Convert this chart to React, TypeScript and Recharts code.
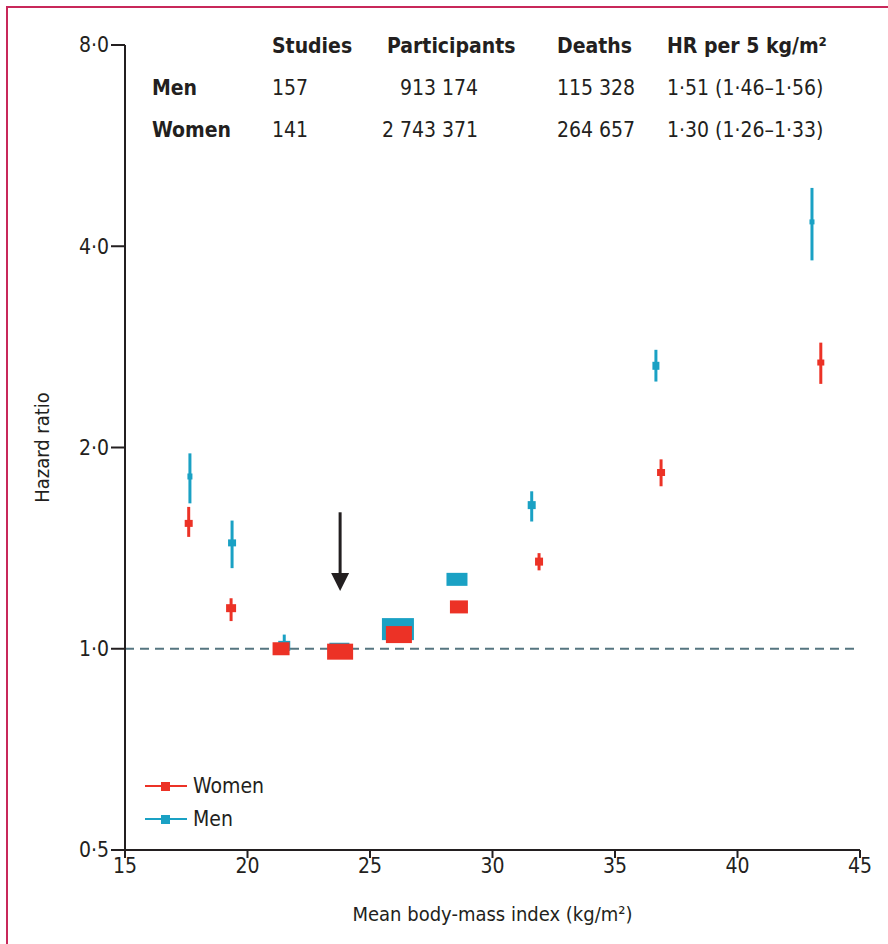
import React from 'react';
import {
  ScatterChart,
  Scatter,
  XAxis,
  YAxis,
  ErrorBar,
  ReferenceLine,
  ReferenceDot,
} from 'recharts';

// BMI groups and hazard ratios (with 95% CI)
const menBmi = [17.65, 19.37, 21.5, 23.75, 26.14, 28.55, 31.6, 36.67, 43.04];
const menHr = [1.81, 1.44, 1.01, 1.0, 1.07, 1.27, 1.64, 2.65, 4.35];
const menLo = [1.65, 1.32, 0.98, 0.99, 1.06, 1.26, 1.55, 2.51, 3.81];
const menHi = [1.96, 1.555, 1.05, 1.01, 1.08, 1.28, 1.72, 2.8, 4.89];

const womenBmi = [17.6, 19.33, 21.37, 23.78, 26.18, 28.63, 31.9, 36.88, 43.4];
const womenHr = [1.54, 1.15, 1.0, 0.99, 1.05, 1.155, 1.35, 1.835, 2.68];
const womenLo = [1.47, 1.1, 0.985, 0.98, 1.04, 1.15, 1.31, 1.75, 2.49];
const womenHi = [1.63, 1.19, 1.015, 1.0, 1.06, 1.16, 1.39, 1.92, 2.87];

const xTicks = [15, 20, 25, 30, 35, 40, 45];
const yTicks = [0.5, 1, 2, 4, 8];

const tableHeader = ['Studies', 'Participants', 'Deaths', 'HR per 5 kg/m²'];
const tableMen = ['Men', '157', '913 174', '115 328', '1·51 (1·46–1·56)'];
const tableWomen = ['Women', '141', '2 743 371', '264 657', '1·30 (1·26–1·33)'];

const refBmi = 23.78;

// marker box sizes (px), drawn roughly in proportion to study weight
const menBox = [[5, 6], [8, 7], [12, 10], [20, 12], [32, 22], [21, 13], [8, 8], [7, 8], [5, 5]];
const womenBox = [[8, 7], [10, 8], [17, 13], [26, 16], [26, 17], [18, 13], [8, 8], [8, 7], [7, 6]];

const RED = '#ec3226';
const CYAN = '#1aa1c4';
const INK = '#231f20';
const FONT = '"Liberation Sans Narrow", "DejaVu Sans Condensed", "Noto Sans", sans-serif';

const build = (bmi: number[], hr: number[], lo: number[], hi: number[]) =>
  bmi.map((b, i) => ({ bmi: b, hr: hr[i], err: [hr[i] - lo[i], hi[i] - hr[i]], idx: i }));

const menData = build(menBmi, menHr, menLo, menHi);
const womenData = build(womenBmi, womenHr, womenLo, womenHi);

const boxShape = (sizes: number[][], color: string) => (props: any) => {
  const { cx, cy, payload } = props;
  const [w, h] = sizes[payload.idx];
  return <rect x={cx - w / 2} y={cy - h / 2} width={w} height={h} fill={color} />;
};

const fmt = (v: number) => v.toFixed(1).replace('.', '·');

// left edge of each column; participant counts are right-aligned at 478
const colX = [152, 272, 387, 557, 667];

const cell = (text: string, col: number, top: number, bold: boolean, alignRight = false) => (
  <div
    key={col + '-' + top}
    style={{
      position: 'absolute',
      left: alignRight ? undefined : colX[col],
      right: alignRight ? 888 - 478 : undefined,
      top,
      fontWeight: bold ? 700 : 400,
      whiteSpace: 'nowrap',
    }}
  >
    {text}
  </div>
);

const legendItems = [
  { name: 'Women', color: RED },
  { name: 'Men', color: CYAN },
];

export default function App() {
  return (
    <div style={{ position: 'absolute', left: 0, top: 0, width: 888, height: 944, background: '#fff', overflow: 'hidden' }}>
      <div
        style={{
          position: 'absolute',
          left: 6,
          top: 6,
          width: 900,
          height: 950,
          borderLeft: '2px solid #c8285a',
          borderTop: '2px solid #c8285a',
        }}
      />
      <ScatterChart
        width={888}
        height={944}
        margin={{ top: 45, right: 28, left: 65, bottom: 14 }}
        style={{ fontFamily: FONT }}
      >
        <XAxis
          type="number"
          dataKey="bmi"
          domain={[15, 45]}
          ticks={xTicks}
          height={80}
          tickSize={8}
          tickMargin={0}
          axisLine={{ stroke: INK, strokeWidth: 2 }}
          tickLine={{ stroke: INK, strokeWidth: 2 }}
          tick={{ fill: INK, fontSize: 21 }}
          label={{
            value: 'Mean body-mass index (kg/m²)',
            position: 'insideBottom',
            offset: 9,
            style: { fill: INK, fontSize: 20 },
          }}
        />
        <YAxis
          type="number"
          dataKey="hr"
          scale="log"
          domain={[0.5, 8]}
          ticks={yTicks}
          allowDataOverflow
          width={60}
          tickSize={14}
          tickMargin={2}
          tickFormatter={fmt}
          axisLine={{ stroke: INK, strokeWidth: 2 }}
          tickLine={{ stroke: INK, strokeWidth: 2 }}
          tick={{ fill: INK, fontSize: 21 }}
          label={{
            value: 'Hazard ratio',
            angle: -90,
            position: 'insideLeft',
            offset: -23,
            style: { fill: INK, fontSize: 20, textAnchor: 'middle' },
          }}
        />
        <ReferenceLine y={1} stroke="#557580" strokeWidth={2} strokeDasharray="9 6" />
        <ReferenceLine
          segment={[
            { x: refBmi, y: 1.6 },
            { x: refBmi, y: 1.29 },
          ]}
          stroke={INK}
          strokeWidth={3}
        />
        <ReferenceDot
          x={refBmi}
          y={1.22}
          shape={(p: any) => (
            <polygon points={`${p.cx - 9},${p.cy - 18} ${p.cx + 9},${p.cy - 18} ${p.cx},${p.cy}`} fill={INK} />
          )}
        />
        <Scatter name="Men" data={menData} shape={boxShape(menBox, CYAN)} isAnimationActive={false}>
          <ErrorBar dataKey="err" direction="y" width={0} stroke={CYAN} strokeWidth={3} />
        </Scatter>
        <Scatter name="Women" data={womenData} shape={boxShape(womenBox, RED)} isAnimationActive={false}>
          <ErrorBar dataKey="err" direction="y" width={0} stroke={RED} strokeWidth={3} />
        </Scatter>
      </ScatterChart>

      {/* legend */}
      <div style={{ position: 'absolute', left: 143, top: 769, fontFamily: FONT, fontSize: 21, color: INK }}>
        {legendItems.map((e) => (
          <div key={e.name} style={{ display: 'flex', alignItems: 'center', height: 33 }}>
            <svg width={50} height={12}>
              <line x1={2} x2={44} y1={6} y2={6} stroke={e.color} strokeWidth={2} />
              <rect x={18} y={2} width={9} height={9} fill={e.color} />
            </svg>
            <span>{e.name}</span>
          </div>
        ))}
      </div>

      {/* summary table */}
      <div style={{ position: 'absolute', left: 0, top: 0, width: 888, height: 200, fontFamily: FONT, fontSize: 21, color: INK }}>
        {tableHeader.map((t, i) => cell(t, i + 1, 34, true))}
        {tableMen.map((t, i) => cell(t, i, 76, i === 0, i === 2))}
        {tableWomen.map((t, i) => cell(t, i, 118, i === 0, i === 2))}
      </div>
    </div>
  );
}
